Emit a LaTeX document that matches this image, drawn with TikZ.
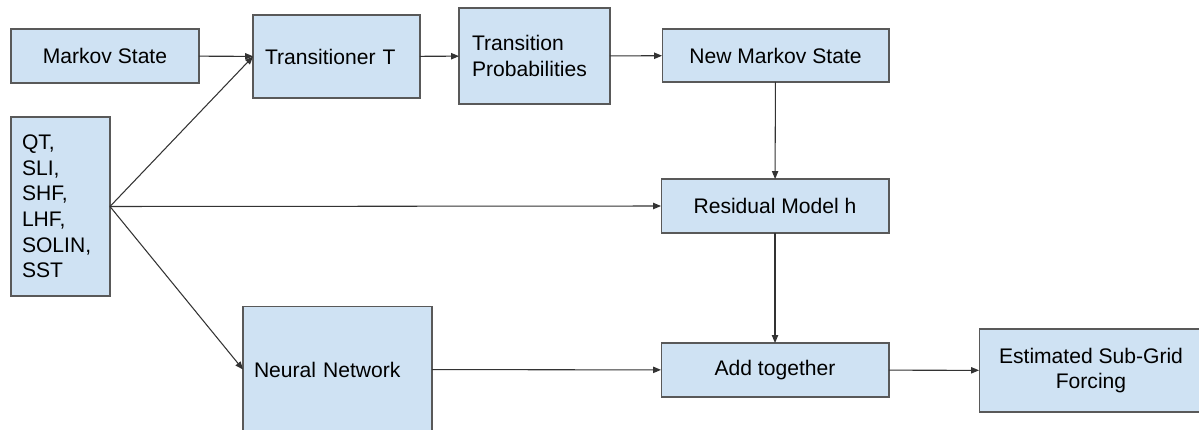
\documentclass[tikz,border=0pt]{standalone}
\usepackage{fontspec}
\setmainfont{Liberation Sans}
\usepackage{xcolor}
\usetikzlibrary{positioning,arrows.meta}
\definecolor{boxfill}{HTML}{CFE2F3}
\definecolor{boxline}{HTML}{595959}
\definecolor{linkline}{HTML}{333333}

\begin{document}
\begin{tikzpicture}[x=0.02cm, y=-0.02cm, block/.style={draw=boxline, fill=boxfill, line width=0.6pt, inner sep=0pt, outer sep=0pt, align=center, font=\fontsize{12}{14.6}\selectfont}, leftblock/.style={block, align=left, inner xsep=0.24cm}, arrow/.style={-{Triangle[length=4.5pt,width=3.6pt]}, draw=linkline, line width=0.6pt}]
\useasboundingbox (0,0) rectangle (1199,429);
\clip (0,0) rectangle (1199,429);
\node[block, minimum width=3.76cm, minimum height=1.08cm] (markov) at (105,56) {Markov State};
\node[leftblock, text width=2.86cm, minimum height=1.66cm] (trans) at (336.5,56.5) {Transitioner T};
\node[leftblock, inner xsep=0.26cm, text width=2.5cm, minimum height=1.92cm] (probs) at (534.5,56) {Transition\\Probabilities};
\node[block, minimum width=4.54cm, minimum height=1.06cm] (newmarkov) at (775.5,55.5) {New Markov State};
\node[leftblock, inner xsep=0.22cm, text width=1.54cm, minimum height=3.58cm] (inputs) at (60.5,206.5) {QT,\\SLI,\\SHF,\\LHF,\\SOLIN,\\SST};
\node[block, minimum width=4.56cm, minimum height=1.08cm] (resid) at (775,206) {Residual Model h};
\node[leftblock, inner xsep=0.22cm, text width=3.34cm, minimum height=2.52cm] (nnet) at (337.5,369.5) {Neural Network};
\node[block, minimum width=4.56cm, minimum height=1.08cm] (addup) at (775,370) {Add together};
\node[block, minimum width=4.48cm, minimum height=1.66cm] (forcing) at (1091,370.5) {Estimated Sub-Grid\\Forcing};
\draw[arrow] (markov) -- (trans);
\draw[arrow] (inputs.east) -- (trans.west);
\draw[arrow] (inputs.east) -- (resid.west);
\draw[arrow] (inputs.east) -- (nnet.west);
\draw[arrow] (trans) -- (probs);
\draw[arrow] (probs) -- (newmarkov);
\draw[arrow] (newmarkov) -- (resid);
\draw[arrow] (resid) -- (addup);
\draw[arrow] (nnet) -- (addup);
\draw[arrow] (addup) -- (forcing);
\end{tikzpicture}
\end{document}
